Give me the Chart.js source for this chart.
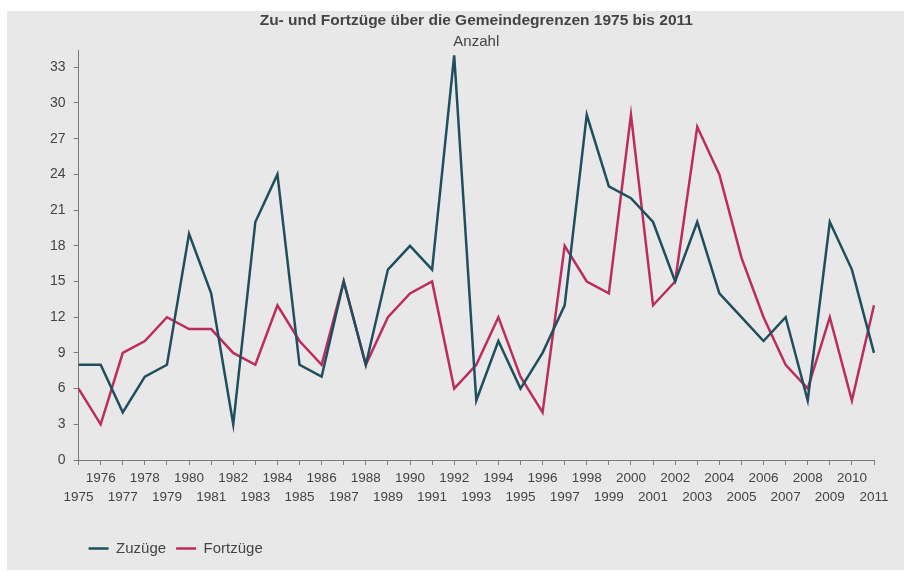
<!DOCTYPE html>
<html>
<head>
<meta charset="utf-8">
<script src="https://cdn.jsdelivr.net/npm/chart.js@4/dist/chart.umd.min.js"></script>
<style>
  html, body { margin: 0; padding: 0; background: #fff; }
  #panel { position: absolute; left: 7px; top: 11px; width: 897px; height: 559px; background: #e8e8e8; }
</style>
</head>
<body>
<div id="panel"><canvas id="chart" width="897" height="559"></canvas></div>
<script>
// Daten
const years = [1975, 1976, 1977, 1978, 1979, 1980, 1981, 1982, 1983, 1984, 1985, 1986, 1987,
  1988, 1989, 1990, 1991, 1992, 1993, 1994, 1995, 1996, 1997, 1998, 1999, 2000,
  2001, 2002, 2003, 2004, 2005, 2006, 2007, 2008, 2009, 2010, 2011];
const zuzuege = [8, 8, 4, 7, 8, 19, 14, 3, 20, 24, 8, 7, 15,
  8, 16, 18, 16, 34, 5, 10, 6, 9, 13, 29, 23, 22,
  20, 15, 20, 14, 12, 10, 12, 5, 20, 16, 9];
const fortzuege = [6, 3, 9, 10, 12, 11, 11, 9, 8, 13, 10, 8, 15,
  8, 12, 14, 15, 6, 8, 12, 7, 4, 18, 15, 14, 29,
  13, 15, 28, 24, 17, 12, 8, 6, 12, 5, 13];
const yTicks = [0, 3, 6, 9, 12, 15, 18, 21, 24, 27, 30, 33];

const textColor = '#444';
const axisColor = '#7a7a7a';
const fontFamily = 'Liberation Sans';

new Chart(document.getElementById('chart'), {
  type: 'line',
  data: {
    labels: years.map(String),
    datasets: [{
      label: 'Zuzüge',
      data: zuzuege,
      borderColor: '#1f4f5f',
      backgroundColor: '#1f4f5f',
      borderWidth: 2.5,
      pointRadius: 0,
      tension: 0
    }, {
      label: 'Fortzüge',
      data: fortzuege,
      borderColor: '#bb2d5c',
      backgroundColor: '#bb2d5c',
      borderWidth: 2.5,
      pointRadius: 0,
      tension: 0
    }]
  },
  options: {
    responsive: false,
    animation: false,
    layout: { padding: { left: 35, right: 30, top: 0, bottom: 4 } },
    plugins: {
      title: {
        display: true,
        fullSize: false,
        text: 'Zu- und Fortzüge über die Gemeindegrenzen 1975 bis 2011',
        color: textColor,
        font: { family: fontFamily, size: 15.5, weight: 'bold' },
        padding: { top: 0, bottom: 2 }
      },
      subtitle: {
        display: true,
        fullSize: false,
        text: 'Anzahl',
        color: textColor,
        font: { family: fontFamily, size: 15 },
        padding: { top: 1, bottom: 0 }
      },
      legend: {
        position: 'bottom',
        align: 'start',
        fullSize: false,
        labels: {
          color: textColor,
          font: { family: fontFamily, size: 15 },
          usePointStyle: true,
          pointStyle: 'line',
          pointStyleWidth: 20,
          padding: 10
        }
      },
      tooltip: { enabled: false }
    },
    scales: {
      x: {
        offset: false,
        border: { display: true, color: axisColor, width: 1 },
        grid: { display: true, drawOnChartArea: false, drawTicks: true, tickLength: 5, color: axisColor },
        afterFit: function (scale) {
          // Abstand zwischen Jahreszahlen und Legende
          scale.height += 21;
        },
        ticks: {
          autoSkip: false,
          maxRotation: 0,
          minRotation: 0,
          padding: 3.5,
          color: textColor,
          font: { family: fontFamily, size: 13.5, lineHeight: '19px' },
          callback: function (value, index) {
            const y = years[index];
            return (y % 2 === 0) ? String(y) : ['', String(y)];
          }
        }
      },
      y: {
        min: 0,
        max: 34.4,
        border: { display: true, color: axisColor, width: 1 },
        grid: { display: true, drawOnChartArea: false, drawTicks: true, tickLength: 5, color: axisColor },
        afterBuildTicks: function (axis) {
          axis.ticks = yTicks.map(v => ({ value: v }));
        },
        ticks: {
          padding: 8,
          color: textColor,
          font: { family: fontFamily, size: 14 }
        }
      }
    }
  }
});
</script>
</body>
</html>
